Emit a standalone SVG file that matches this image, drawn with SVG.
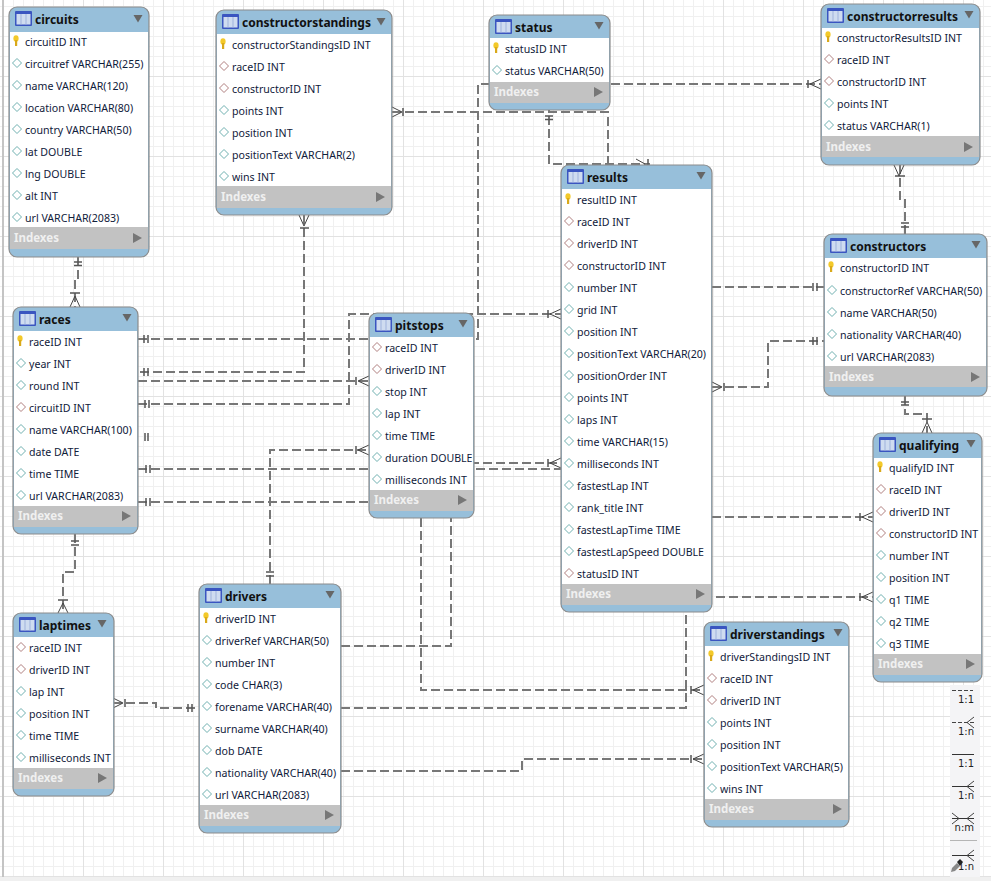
<svg xmlns="http://www.w3.org/2000/svg" width="991" height="881" viewBox="0 0 991 881">
<style>
text{font-family:"Noto Sans","Liberation Sans",sans-serif;font-size:10.6px;fill:#10203a}
.t{font-weight:700;font-size:12px;fill:#111}
.ix{font-weight:700;font-size:11.5px;fill:#f0f0f0}
.c{fill:none;stroke:#777;stroke-width:2;stroke-dasharray:9 4}
.m{fill:none;stroke:#555;stroke-width:1.5}
.f{fill:none;stroke:#444;stroke-width:1}
.o{fill:#97bfda;stroke:#8c8c8c;stroke-width:1.200}
.l{font-family:"DejaVu Sans",sans-serif;font-size:10px;fill:#222;text-anchor:end}
</style>
<defs>
<pattern id="g" width="80" height="80" patternUnits="userSpaceOnUse" patternTransform="translate(3,-4)">
<path d="M10.500 0V80M20.500 0V80M30.500 0V80M40.500 0V80M50.500 0V80M60.500 0V80M70.500 0V80M0 10.500H80M0 20.500H80M0 30.500H80M0 40.500H80M0 50.500H80M0 60.500H80M0 70.500H80" stroke="#f0f0f0" fill="none"/>
<path d="M.5 0V80M0 .5H80" stroke="#e2e2e2" fill="none"/>
</pattern>
<g id="ti"><rect x="0" y="0" width="17" height="15" rx="1" fill="#3a55c0"/><rect x="1.500" y="3" width="14" height="10.500" fill="#cfdcf0"/><path d="M6 3V13.500M11 3V13.500" stroke="#9fb2dc"/></g>
<g id="k"><ellipse cx="0" cy="-2.500" rx="2.600" ry="3.200" fill="#f3c92a"/><rect x="-1" y="-1" width="2.200" height="6" fill="#d9a91a"/></g>
<path id="d" d="M0-4.500L4.500 0L0 4.500L-4.500 0Z" fill="#fff" stroke="#6fb0b0"/>
<path id="r" d="M0-4.500L4.500 0L0 4.500L-4.500 0Z" fill="#fff" stroke="#b07f7f"/>
<path id="dn" d="M-4.500 0H4.500L0 7.500Z" fill="#666"/>
<path id="rt" d="M0 0L9 5L0 10Z" fill="#777"/>
</defs>
<rect width="991" height="881" fill="#fff"/>
<rect width="991" height="881" fill="url(#g)"/>
<rect x="2" y="0" width="2" height="881" fill="#c4c4c4"/>
<rect x="0" y="877" width="991" height="4" fill="#f0f0f0"/>

<g id="connectors">
<path class="c" d="M78 257V281H75V307"/>
<path class="c" d="M304 215V372H138"/>
<path class="c" d="M138 339H478V84H821"/>
<path class="c" d="M138 381H369"/>
<path class="c" d="M138 404H349V314H561"/>
<path class="c" d="M138 469H561"/>
<path class="c" d="M138 502H421V690H704"/>
<path class="c" d="M341 646H451V463H561"/>
<path class="c" d="M270 584V450H369"/>
<path class="c" d="M75 534V572H63V613"/>
<path class="c" d="M113 703H156V708H199"/>
<path class="c" d="M392 112H608V165"/>
<path class="c" d="M549 103V164H650"/>
<path class="c" d="M712 287H824"/>
<path class="c" d="M712 387H768V341H824"/>
<path class="c" d="M712 517H873"/>
<path class="c" d="M690 597H873"/>
<path class="c" d="M341 708H686V612"/>
<path class="c" d="M341 771H522V759H704"/>
<path class="c" d="M900 165V199H905V234"/>
<path class="c" d="M905 396V414H927V433"/>
<path class="m" d="M74 262H82M74 265.500H82M70 293H80M71 541H79M71 545H79M58 600H68M300 228H309M144 368V376M148 368V376M144 335V343M148 335V343M145 400V408M149 400V408M146 465V473M150 465V473M146 498V506M150 498V506M145 433V441M148 433V441M356 377V385M356 446V454M548 459V467M548 310V318M266 572H274M266 576H274M125 699V707M188 704V712M192 704V712M403 108V116M545 116H553M545 119.500H553M813 283V291M817 283V291M813 337V345M817 337V345M724 383V391M860 513V521M860 593V601M808 80V88M895 176H905M901 223H909M901 227H909M901 402H909M901 405H909M922 419H932M691 686V694M691 755V763M648 159V165"/>
<path class="f" d="M75 296L70 307M75 296L80 307M63 603L58 613M63 603L68 613M304 226L299 215M304 226L309 215M358 381L369 376M358 381L369 386M358 450L369 445M358 450L369 455M550 463L561 458M550 463L561 468M550 314L561 309M550 314L561 319M113 698L123 703L113 708M392 107L402 112L392 117M636 159L645 164M810 84L821 79M810 84L821 89M712 382L722 387L712 392M862 517L873 512M862 517L873 522M862 597L873 592M862 597L873 602M899 176L894 165M899 176L904 165M927 422L922 433M927 422L932 433M693 690L704 685M693 690L704 695M693 759L704 754M693 759L704 764"/>
</g>

<g id="circuits" transform="translate(9,0)">
<path class="o" d="M8 7H132a8 8 0 0 1 8 8V249a8 8 0 0 1-8 8H8a8 8 0 0 1-8-8V15a8 8 0 0 1 8-8Z"/>
<rect x="1" y="32" width="138" height="195" fill="#fff"/><rect x="1" y="227" width="138" height="22" fill="#c2c2c2"/>
<use href="#ti" x="6" y="11"/><text class="t" x="26" y="24">circuits</text><use href="#dn" x="129" y="15"/>
<use href="#k" x="7" y="41"/><text x="16" y="46">circuitID INT</text>
<use href="#d" x="8" y="63"/><text x="16" y="68">circuitref VARCHAR(255)</text>
<use href="#d" x="8" y="85"/><text x="16" y="90">name VARCHAR(120)</text>
<use href="#d" x="8" y="107"/><text x="16" y="112">location VARCHAR(80)</text>
<use href="#d" x="8" y="129"/><text x="16" y="134">country VARCHAR(50)</text>
<use href="#d" x="8" y="151"/><text x="16" y="156">lat DOUBLE</text>
<use href="#d" x="8" y="173"/><text x="16" y="178">lng DOUBLE</text>
<use href="#d" x="8" y="195"/><text x="16" y="200">alt INT</text>
<use href="#d" x="8" y="217"/><text x="16" y="222">url VARCHAR(2083)</text>
<text class="ix" x="5" y="242">Indexes</text><use href="#rt" x="124" y="233"/>
</g>

<g id="constructorstandings" transform="translate(216,0)">
<path class="o" d="M8 10H168a8 8 0 0 1 8 8V207a8 8 0 0 1-8 8H8a8 8 0 0 1-8-8V18a8 8 0 0 1 8-8Z"/>
<rect x="1" y="34" width="174" height="152" fill="#fff"/><rect x="1" y="186" width="174" height="22" fill="#c2c2c2"/>
<use href="#ti" x="6" y="14"/><text class="t" x="26" y="27">constructorstandings</text><use href="#dn" x="165" y="18"/>
<use href="#k" x="7" y="44"/><text x="16" y="49">constructorStandingsID INT</text>
<use href="#r" x="8" y="66"/><text x="16" y="71">raceID INT</text>
<use href="#r" x="8" y="88"/><text x="16" y="93">constructorID INT</text>
<use href="#d" x="8" y="110"/><text x="16" y="115">points INT</text>
<use href="#d" x="8" y="132"/><text x="16" y="137">position INT</text>
<use href="#d" x="8" y="154"/><text x="16" y="159">positionText VARCHAR(2)</text>
<use href="#d" x="8" y="176"/><text x="16" y="181">wins INT</text>
<text class="ix" x="5" y="201">Indexes</text><use href="#rt" x="160" y="192"/>
</g>

<g id="status" transform="translate(489,0)">
<path class="o" d="M8 15H113a8 8 0 0 1 8 8V102a8 8 0 0 1-8 8H8a8 8 0 0 1-8-8V23a8 8 0 0 1 8-8Z"/>
<rect x="1" y="38" width="119" height="44" fill="#fff"/><rect x="1" y="82" width="119" height="21" fill="#c2c2c2"/>
<use href="#ti" x="6" y="19"/><text class="t" x="26" y="32">status</text><use href="#dn" x="110" y="22"/>
<use href="#k" x="7" y="48"/><text x="16" y="53">statusID INT</text>
<use href="#d" x="8" y="70"/><text x="16" y="75">status VARCHAR(50)</text>
<text class="ix" x="5" y="96">Indexes</text><use href="#rt" x="105" y="87"/>
</g>

<g id="constructorresults" transform="translate(821,0)">
<path class="o" d="M8 4H151a8 8 0 0 1 8 8V157a8 8 0 0 1-8 8H8a8 8 0 0 1-8-8V12a8 8 0 0 1 8-8Z"/>
<rect x="1" y="28" width="157" height="108" fill="#fff"/><rect x="1" y="136" width="157" height="21" fill="#c2c2c2"/>
<use href="#ti" x="6" y="8"/><text class="t" x="26" y="21">constructorresults</text><use href="#dn" x="148" y="11"/>
<use href="#k" x="7" y="37"/><text x="16" y="42">constructorResultsID INT</text>
<use href="#r" x="8" y="59"/><text x="16" y="64">raceID INT</text>
<use href="#r" x="8" y="81"/><text x="16" y="86">constructorID INT</text>
<use href="#d" x="8" y="103"/><text x="16" y="108">points INT</text>
<use href="#d" x="8" y="125"/><text x="16" y="130">status VARCHAR(1)</text>
<text class="ix" x="5" y="151">Indexes</text><use href="#rt" x="143" y="142"/>
</g>

<g id="results" transform="translate(561,0)">
<path class="o" d="M8 165H143a8 8 0 0 1 8 8V604a8 8 0 0 1-8 8H8a8 8 0 0 1-8-8V173a8 8 0 0 1 8-8Z"/>
<rect x="1" y="189" width="149" height="395" fill="#fff"/><rect x="1" y="584" width="149" height="21" fill="#c2c2c2"/>
<use href="#ti" x="6" y="169"/><text class="t" x="26" y="182">results</text><use href="#dn" x="140" y="172"/>
<use href="#k" x="7" y="199"/><text x="16" y="204">resultID INT</text>
<use href="#r" x="8" y="221"/><text x="16" y="226">raceID INT</text>
<use href="#r" x="8" y="243"/><text x="16" y="248">driverID INT</text>
<use href="#r" x="8" y="265"/><text x="16" y="270">constructorID INT</text>
<use href="#d" x="8" y="287"/><text x="16" y="292">number INT</text>
<use href="#d" x="8" y="309"/><text x="16" y="314">grid INT</text>
<use href="#d" x="8" y="331"/><text x="16" y="336">position INT</text>
<use href="#d" x="8" y="353"/><text x="16" y="358">positionText VARCHAR(20)</text>
<use href="#d" x="8" y="375"/><text x="16" y="380">positionOrder INT</text>
<use href="#d" x="8" y="397"/><text x="16" y="402">points INT</text>
<use href="#d" x="8" y="419"/><text x="16" y="424">laps INT</text>
<use href="#d" x="8" y="441"/><text x="16" y="446">time VARCHAR(15)</text>
<use href="#d" x="8" y="463"/><text x="16" y="468">milliseconds INT</text>
<use href="#d" x="8" y="485"/><text x="16" y="490">fastestLap INT</text>
<use href="#d" x="8" y="507"/><text x="16" y="512">rank_title INT</text>
<use href="#d" x="8" y="529"/><text x="16" y="534">fastestLapTime TIME</text>
<use href="#d" x="8" y="551"/><text x="16" y="556">fastestLapSpeed DOUBLE</text>
<use href="#r" x="8" y="573"/><text x="16" y="578">statusID INT</text>
<text class="ix" x="5" y="598">Indexes</text><use href="#rt" x="135" y="589"/>
</g>

<g id="constructors" transform="translate(824,0)">
<path class="o" d="M8 234H155a8 8 0 0 1 8 8V388a8 8 0 0 1-8 8H8a8 8 0 0 1-8-8V242a8 8 0 0 1 8-8Z"/>
<rect x="1" y="258" width="161" height="108" fill="#fff"/><rect x="1" y="366" width="161" height="21" fill="#c2c2c2"/>
<use href="#ti" x="6" y="238"/><text class="t" x="26" y="251">constructors</text><use href="#dn" x="152" y="241"/>
<use href="#k" x="7" y="267"/><text x="16" y="272">constructorID INT</text>
<use href="#d" x="8" y="290"/><text x="16" y="295">constructorRef VARCHAR(50)</text>
<use href="#d" x="8" y="312"/><text x="16" y="317">name VARCHAR(50)</text>
<use href="#d" x="8" y="334"/><text x="16" y="339">nationality VARCHAR(40)</text>
<use href="#d" x="8" y="356"/><text x="16" y="361">url VARCHAR(2083)</text>
<text class="ix" x="5" y="381">Indexes</text><use href="#rt" x="147" y="372"/>
</g>

<g id="qualifying" transform="translate(873,0)">
<path class="o" d="M8 433H101a8 8 0 0 1 8 8V674a8 8 0 0 1-8 8H8a8 8 0 0 1-8-8V441a8 8 0 0 1 8-8Z"/>
<rect x="1" y="458" width="107" height="196" fill="#fff"/><rect x="1" y="654" width="107" height="21" fill="#c2c2c2"/>
<use href="#ti" x="6" y="437"/><text class="t" x="26" y="450">qualifying</text><use href="#dn" x="98" y="440"/>
<use href="#k" x="7" y="467"/><text x="16" y="472">qualifyID INT</text>
<use href="#r" x="8" y="489"/><text x="16" y="494">raceID INT</text>
<use href="#r" x="8" y="511"/><text x="16" y="516">driverID INT</text>
<use href="#r" x="8" y="533"/><text x="16" y="538">constructorID INT</text>
<use href="#d" x="8" y="555"/><text x="16" y="560">number INT</text>
<use href="#d" x="8" y="577"/><text x="16" y="582">position INT</text>
<use href="#d" x="8" y="599"/><text x="16" y="604">q1 TIME</text>
<use href="#d" x="8" y="621"/><text x="16" y="626">q2 TIME</text>
<use href="#d" x="8" y="643"/><text x="16" y="648">q3 TIME</text>
<text class="ix" x="5" y="668">Indexes</text><use href="#rt" x="93" y="659"/>
</g>

<g id="races" transform="translate(13,0)">
<path class="o" d="M8 307H117a8 8 0 0 1 8 8V526a8 8 0 0 1-8 8H8a8 8 0 0 1-8-8V315a8 8 0 0 1 8-8Z"/>
<rect x="1" y="331" width="123" height="175" fill="#fff"/><rect x="1" y="506" width="123" height="21" fill="#c2c2c2"/>
<use href="#ti" x="6" y="311"/><text class="t" x="26" y="324">races</text><use href="#dn" x="114" y="314"/>
<use href="#k" x="7" y="341"/><text x="16" y="346">raceID INT</text>
<use href="#d" x="8" y="363"/><text x="16" y="368">year INT</text>
<use href="#d" x="8" y="385"/><text x="16" y="390">round INT</text>
<use href="#r" x="8" y="407"/><text x="16" y="412">circuitID INT</text>
<use href="#d" x="8" y="429"/><text x="16" y="434">name VARCHAR(100)</text>
<use href="#d" x="8" y="451"/><text x="16" y="456">date DATE</text>
<use href="#d" x="8" y="473"/><text x="16" y="478">time TIME</text>
<use href="#d" x="8" y="495"/><text x="16" y="500">url VARCHAR(2083)</text>
<text class="ix" x="5" y="520">Indexes</text><use href="#rt" x="109" y="511"/>
</g>

<g id="pitstops" transform="translate(369,0)">
<path class="o" d="M8 313H97a8 8 0 0 1 8 8V510a8 8 0 0 1-8 8H8a8 8 0 0 1-8-8V321a8 8 0 0 1 8-8Z"/>
<rect x="1" y="337" width="103" height="153" fill="#fff"/><rect x="1" y="490" width="103" height="21" fill="#c2c2c2"/>
<use href="#ti" x="6" y="317"/><text class="t" x="26" y="330">pitstops</text><use href="#dn" x="94" y="320"/>
<use href="#r" x="8" y="347"/><text x="16" y="352">raceID INT</text>
<use href="#r" x="8" y="369"/><text x="16" y="374">driverID INT</text>
<use href="#d" x="8" y="391"/><text x="16" y="396">stop INT</text>
<use href="#d" x="8" y="413"/><text x="16" y="418">lap INT</text>
<use href="#d" x="8" y="435"/><text x="16" y="440">time TIME</text>
<use href="#d" x="8" y="457"/><text x="16" y="462">duration DOUBLE</text>
<use href="#d" x="8" y="479"/><text x="16" y="484">milliseconds INT</text>
<text class="ix" x="5" y="504">Indexes</text><use href="#rt" x="89" y="495"/>
</g>

<g id="laptimes" transform="translate(13,0)">
<path class="o" d="M8 613H93a8 8 0 0 1 8 8V788a8 8 0 0 1-8 8H8a8 8 0 0 1-8-8V621a8 8 0 0 1 8-8Z"/>
<rect x="1" y="637" width="99" height="131" fill="#fff"/><rect x="1" y="768" width="99" height="21" fill="#c2c2c2"/>
<use href="#ti" x="6" y="617"/><text class="t" x="26" y="630">laptimes</text><use href="#dn" x="89" y="620"/>
<use href="#r" x="8" y="647"/><text x="16" y="652">raceID INT</text>
<use href="#r" x="8" y="669"/><text x="16" y="674">driverID INT</text>
<use href="#d" x="8" y="691"/><text x="16" y="696">lap INT</text>
<use href="#d" x="8" y="713"/><text x="16" y="718">position INT</text>
<use href="#d" x="8" y="735"/><text x="16" y="740">time TIME</text>
<use href="#d" x="8" y="757"/><text x="16" y="762">milliseconds INT</text>
<text class="ix" x="5" y="782">Indexes</text><use href="#rt" x="85" y="773"/>
</g>

<g id="drivers" transform="translate(199,0)">
<path class="o" d="M8 584H134a8 8 0 0 1 8 8V825a8 8 0 0 1-8 8H8a8 8 0 0 1-8-8V592a8 8 0 0 1 8-8Z"/>
<rect x="1" y="608" width="140" height="197" fill="#fff"/><rect x="1" y="805" width="140" height="21" fill="#c2c2c2"/>
<use href="#ti" x="6" y="588"/><text class="t" x="26" y="601">drivers</text><use href="#dn" x="131" y="591"/>
<use href="#k" x="7" y="618"/><text x="16" y="623">driverID INT</text>
<use href="#d" x="8" y="640"/><text x="16" y="645">driverRef VARCHAR(50)</text>
<use href="#d" x="8" y="662"/><text x="16" y="667">number INT</text>
<use href="#d" x="8" y="684"/><text x="16" y="689">code CHAR(3)</text>
<use href="#d" x="8" y="706"/><text x="16" y="711">forename VARCHAR(40)</text>
<use href="#d" x="8" y="728"/><text x="16" y="733">surname VARCHAR(40)</text>
<use href="#d" x="8" y="750"/><text x="16" y="755">dob DATE</text>
<use href="#d" x="8" y="772"/><text x="16" y="777">nationality VARCHAR(40)</text>
<use href="#d" x="8" y="794"/><text x="16" y="799">url VARCHAR(2083)</text>
<text class="ix" x="5" y="819">Indexes</text><use href="#rt" x="126" y="810"/>
</g>

<g id="driverstandings" transform="translate(704,0)">
<path class="o" d="M8 622H137a8 8 0 0 1 8 8V819a8 8 0 0 1-8 8H8a8 8 0 0 1-8-8V630a8 8 0 0 1 8-8Z"/>
<rect x="1" y="646" width="143" height="153" fill="#fff"/><rect x="1" y="799" width="143" height="21" fill="#c2c2c2"/>
<use href="#ti" x="6" y="626"/><text class="t" x="26" y="639">driverstandings</text><use href="#dn" x="134" y="629"/>
<use href="#k" x="7" y="656"/><text x="16" y="661">driverStandingsID INT</text>
<use href="#r" x="8" y="678"/><text x="16" y="683">raceID INT</text>
<use href="#r" x="8" y="700"/><text x="16" y="705">driverID INT</text>
<use href="#d" x="8" y="722"/><text x="16" y="727">points INT</text>
<use href="#d" x="8" y="744"/><text x="16" y="749">position INT</text>
<use href="#d" x="8" y="766"/><text x="16" y="771">positionText VARCHAR(5)</text>
<use href="#d" x="8" y="788"/><text x="16" y="793">wins INT</text>
<text class="ix" x="5" y="813">Indexes</text><use href="#rt" x="129" y="804"/>
</g>

<g id="legend">
<rect x="950" y="685" width="30" height="192" fill="#f4f4f6"/>
<path d="M952 690.500H973M952 722.500H974" stroke="#444" stroke-dasharray="4 2" fill="none"/>
<path d="M952 754.500H974M952 786.500H974M952 818.500H974M952 855.500H974" stroke="#333" fill="none"/>
<path class="f" d="M974 717L967 722.500L974 728M974 781L967 786.500L974 792M974 813L967 818.500L974 824M952 813L959 818.500L952 824M974 850L967 855.500L974 861"/>
<path d="M950 840.500H977" stroke="#b5b5b5" fill="none"/>
<path d="M952 868L957 863L960 866L955 871L951 872Z" fill="#888"/><path d="M957 862L960 859L963 862L960 866Z" fill="#222"/>
<text class="l" x="974" y="703">1:1</text><text class="l" x="974" y="735">1:n</text>
<text class="l" x="974" y="767">1:1</text><text class="l" x="974" y="799">1:n</text>
<text class="l" x="974" y="831">n:m</text><text class="l" x="974" y="870">1:n</text>
</g>
</svg>
